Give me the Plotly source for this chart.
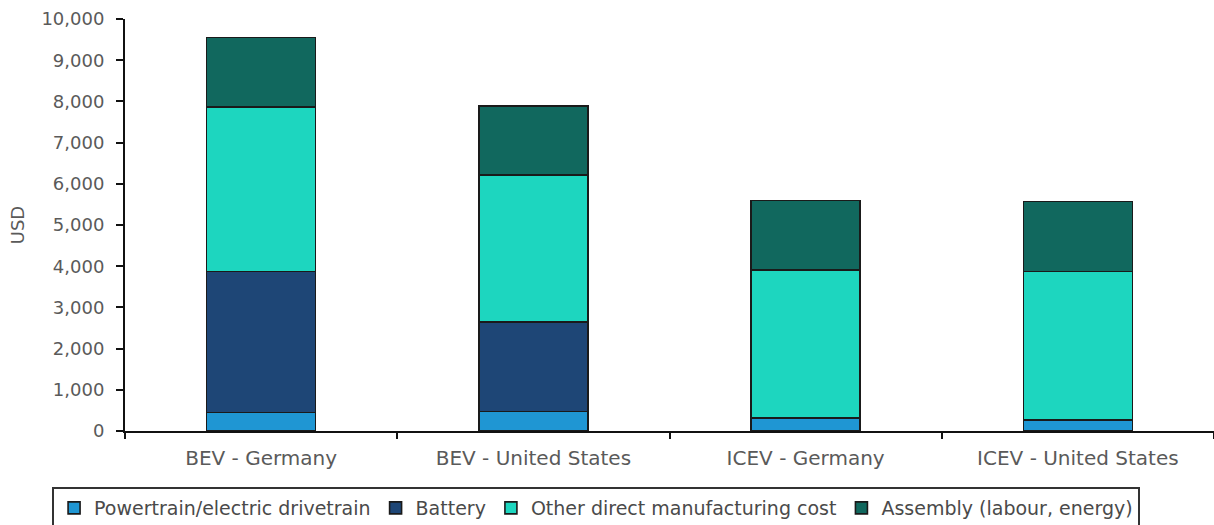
import plotly.graph_objects as go

categories = ["BEV - Germany", "BEV - United States", "ICEV - Germany", "ICEV - United States"]

powertrain = [450, 470, 320, 270]
battery = [3420, 2180, 0, 0]
other_direct = [4000, 3570, 3590, 3600]
assembly = [1680, 1670, 1680, 1700]

series = [
    ("Powertrain/electric drivetrain", powertrain, "#1f96d3"),
    ("Battery", battery, "#1e4676"),
    ("Other direct manufacturing cost", other_direct, "#1dd6bf"),
    ("Assembly (labour, energy)", assembly, "#11685e"),
]

fig = go.Figure()
for name, vals, color in series:
    fig.add_trace(go.Bar(
        x=categories, y=vals, name=name,
        marker=dict(color=color, line=dict(color="#1a1a1a", width=1.6)),
        width=0.4,
    ))

font_family = "DejaVu Sans, Verdana, sans-serif"

fig.update_layout(
    barmode="stack",
    width=1214, height=525,
    margin=dict(l=125, r=0, t=19, b=94),
    plot_bgcolor="white", paper_bgcolor="white",
    font=dict(family=font_family, size=18, color="#5a5a5a"),
    showlegend=True,
    legend=dict(
        orientation="h",
        xref="container", yref="container",
        x=0.491, xanchor="center",
        y=1 - 487 / 525, yanchor="top",
        bordercolor="#333333", borderwidth=2,
        font=dict(size=19, color="#4a4a4a"),
        traceorder="normal",
        itemwidth=30,
        tracegroupgap=0,
    ),
    xaxis=dict(
        showline=True, linecolor="#111111", linewidth=2,
        ticks="outside", ticklen=6, tickcolor="#111111", tickwidth=2,
        tickson="boundaries",
        ticklabelstandoff=8,
        tickfont=dict(size=20, color="#5a5a5a"),
        showgrid=False,
    ),
    yaxis=dict(
        range=[0, 10000],
        dtick=1000,
        tickformat=",d",
        showline=True, linecolor="#111111", linewidth=2,
        ticks="outside", ticklen=7, tickcolor="#111111", tickwidth=2,
        ticklabelstandoff=8,
        tickfont=dict(size=18, color="#5a5a5a"),
        showgrid=False, zeroline=False,
        title=dict(text="USD", font=dict(size=18, color="#5a5a5a"), standoff=12),
    ),
)

fig.write_html("out.html")
